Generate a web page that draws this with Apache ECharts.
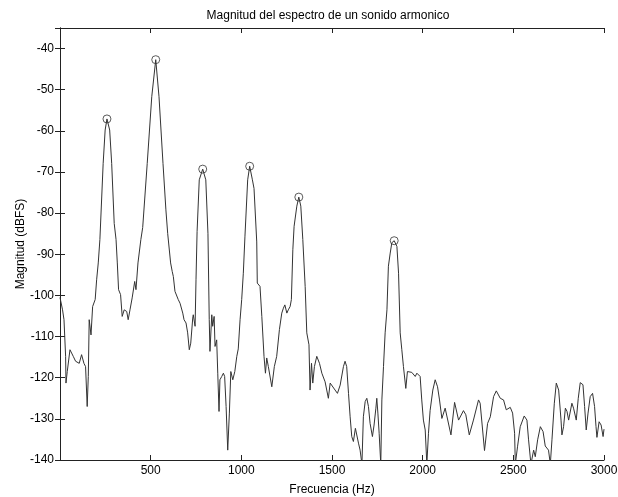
<!DOCTYPE html>
<html>
<head>
<meta charset="utf-8">
<title>Magnitud del espectro</title>
<script src="https://cdn.jsdelivr.net/npm/echarts@6/dist/echarts.min.js"></script>
<style>
  html, body { margin: 0; padding: 0; background: #fff; }
  #chart { width: 618px; height: 497px; }
</style>
</head>
<body>
<div id="chart"></div>
<script>
// Frequency bins (Hz) and spectrum magnitude (dBFS)
const freqHz = [
  0, 14, 22, 31, 33, 40, 55, 73, 86, 97, 106, 119, 132, 141, 150, 156, 161, 171, 180, 189,
  194, 202, 211, 220, 238, 249, 259, 274, 285, 299, 309, 316, 323, 334, 343, 354, 368, 376, 386, 398,
  412, 419, 430, 437, 446, 456, 481, 506, 528, 546, 568, 584, 594, 610, 619, 625, 634, 644, 652, 662,
  667, 677, 684, 695, 704, 713, 721, 732, 735, 745, 750, 756, 768, 787, 804, 816, 823, 827, 837, 842,
  850, 855, 864, 870, 877, 882, 892, 901, 908, 916, 925, 934, 942, 953, 964, 975, 983, 993, 1002, 1011,
  1020, 1035, 1046, 1061, 1070, 1085, 1088, 1103, 1113, 1125, 1133, 1140, 1149, 1168, 1182, 1195, 1210, 1223, 1232, 1240,
  1251, 1259, 1269, 1276, 1284, 1291, 1306, 1317, 1328, 1339, 1352, 1361, 1373, 1379, 1387, 1394, 1403, 1416, 1431, 1444,
  1462, 1480, 1490, 1499, 1517, 1530, 1545, 1563, 1572, 1581, 1591, 1600, 1609, 1618, 1629, 1637, 1646, 1655, 1665, 1673,
  1683, 1692, 1701, 1710, 1723, 1732, 1742, 1747, 1753, 1760, 1769, 1775, 1784, 1793, 1803, 1811, 1821, 1830, 1843, 1858,
  1867, 1876, 1885, 1894, 1907, 1916, 1927, 1940, 1959, 1968, 1986, 1995, 2004, 2014, 2023, 2032, 2041, 2056, 2069, 2082,
  2093, 2106, 2124, 2156, 2176, 2198, 2225, 2238, 2257, 2280, 2308, 2317, 2341, 2358, 2373, 2391, 2406, 2428, 2446, 2461,
  2470, 2483, 2496, 2507, 2511, 2523, 2538, 2560, 2575, 2584, 2597, 2612, 2621, 2634, 2649, 2664, 2676, 2694, 2704, 2713,
  2726, 2737, 2750, 2763, 2768, 2777, 2787, 2796, 2805, 2823, 2832, 2847, 2858, 2869, 2884, 2893, 2902, 2912, 2924, 2937,
  2948, 2956, 2961, 2973, 2984, 2995, 3000
];
const magnitudeDbfs = [
  -100.5, -103.5, -105.9, -114.8, -121.3, -118.5, -113.2, -114.8, -116, -115.7, -116.5, -114.4, -116.5, -117.3, -127, -119.7, -105.9, -109.6, -102.7, -103,
  -101, -96.2, -92.1, -86.4, -67.9, -59.8, -57.1, -59.8, -67.9, -82.5, -86.4, -92.1, -98.6, -99.8, -105.1, -103.5, -103.9, -105.9, -103.5, -100.6,
  -96.6, -98.6, -92.1, -91.7, -86.4, -83.5, -67.9, -51.7, -42.7, -51.7, -67.9, -79.2, -85, -92.1, -94.2, -95.4, -99, -98.6, -101, -101.9,
  -101.5, -104.3, -105.9, -106.7, -109.1, -113.2, -111.6, -105.5, -104.7, -107.5, -96.2, -84.5, -71.9, -69.3, -71.9, -85, -105.9, -113.6, -104.7, -107.5,
  -105.1, -112.4, -110.8, -118.9, -128.2, -120.5, -119.7, -118.9, -119.7, -127, -137.6, -128.6, -118.5, -120.5, -118.5, -114.8, -113, -105.9, -101, -94.6,
  -85.6, -71.9, -68.6, -71.9, -74, -87, -97, -97.8, -105.1, -114.8, -118.9, -115.2, -117.3, -122.2, -117.3, -114.8, -108.3, -104.3, -103.1, -102.3,
  -104.3, -103.5, -102.7, -101, -88.9, -83.2, -78.3, -76.1, -78.3, -86.4, -97.8, -109.1, -112, -123, -116.5, -121.3, -117.3, -114.8, -116.5, -118.9,
  -121, -125, -121.3, -121, -123, -123.8, -121.8, -117.3, -116, -117.3, -123.8, -129.5, -134.3, -135.5, -132.3, -132.7, -135.9, -137.6, -141, -129.5,
  -125.8, -125, -127, -131.1, -134.3, -131.5, -127.4, -125, -128.6, -133.5, -141, -125.4, -117.3, -109.1, -103.5, -92.9, -89.7, -87.2, -86.7, -88.1,
  -94.6, -109.1, -113.2, -117.3, -122.6, -118.5, -118.3, -118.7, -119.7, -118.9, -119.7, -125.4, -130.3, -132.7, -141, -133.5, -128, -123, -120.5, -122.2,
  -125.4, -129.9, -127.4, -133.9, -126, -130.3, -128, -129, -133.9, -130.3, -125.4, -126.2, -137.7, -131.1, -129.5, -124.6, -123.2, -125, -125.4, -127.8,
  -128.2, -127.2, -128.6, -133.5, -141, -136.8, -131.9, -129.3, -130.3, -135.1, -141, -137.6, -139.2, -135.1, -131.9, -133.1, -136.6, -137.6, -141, -135.1,
  -126.2, -121.3, -123, -130.3, -133.9, -131.9, -127.4, -128.2, -130.3, -126.2, -127.4, -130.3, -125, -121.2, -121.7, -127, -132.7, -128.6, -124.6, -123.8,
  -127, -131.9, -134.5, -130.7, -131.5, -134.3, -132.5
];

// Detected harmonic peaks
const peakFreqHz = [259, 528, 787, 1046, 1317, 1843];
const peakDbfs = [-57.1, -42.7, -69.3, -68.6, -76.1, -86.7];

const spectrum = freqHz.map((f, i) => [f, magnitudeDbfs[i]]);
const peaks = peakFreqHz.map((f, i) => [f, peakDbfs[i]]);

const FONT = "'Liberation Sans', Arial, Helvetica, sans-serif";
const INK = '#222';

const frameAxis = {
  axisLine: { show: true, lineStyle: { color: INK, width: 1 } },
  axisTick: { show: true, inside: true, length: 5, lineStyle: { color: INK, width: 1 } },
  splitLine: { show: false }
};

const plainNumber = (v) => String(v);

const chart = echarts.init(document.getElementById('chart'), null, { renderer: 'canvas' });
chart.setOption({
  animation: false,
  backgroundColor: '#fff',
  title: {
    text: 'Magnitud del espectro de un sonido armonico',
    left: 323, top: 5, textAlign: 'center',
    textStyle: { fontFamily: FONT, fontSize: 12, fontWeight: 'normal', color: '#000' }
  },
  grid: { left: 60, right: 14, top: 28, bottom: 37, containLabel: false, outerBoundsMode: 'none' },
  xAxis: [
    Object.assign({
      type: 'value', min: 0, max: 3000, interval: 500, position: 'bottom',
      name: 'Frecuencia (Hz)', nameLocation: 'middle', nameGap: 24, nameMoveOverlap: false,
      nameTextStyle: { fontFamily: FONT, fontSize: 12, color: '#000' },
      axisLabel: { show: true, showMinLabel: false, margin: 5, formatter: plainNumber,
                   fontFamily: FONT, fontSize: 12, color: '#000' }
    }, frameAxis),
    Object.assign({
      type: 'value', min: 0, max: 3000, interval: 500, position: 'top',
      axisLabel: { show: false }
    }, frameAxis)
  ],
  yAxis: [
    Object.assign({
      type: 'value', min: -140, max: -35, interval: 10, position: 'left',
      name: 'Magnitud (dBFS)', nameLocation: 'middle', nameGap: 33, nameMoveOverlap: false,
      nameTextStyle: { fontFamily: FONT, fontSize: 12, color: '#000' },
      axisLabel: { show: true, showMaxLabel: false, margin: 6, formatter: plainNumber,
                   fontFamily: FONT, fontSize: 12, color: '#000' }
    }, frameAxis),
    Object.assign({
      type: 'value', min: -140, max: -35, interval: 10, position: 'right',
      axisLabel: { show: false }
    }, frameAxis)
  ],
  series: [
    {
      type: 'line',
      data: spectrum,
      xAxisIndex: 0, yAxisIndex: 0,
      showSymbol: false,
      clip: true,
      lineStyle: { color: '#333', width: 1 },
      emphasis: { disabled: true }
    },
    {
      type: 'scatter',
      data: peaks,
      xAxisIndex: 0, yAxisIndex: 0,
      symbol: 'circle',
      symbolSize: 8,
      itemStyle: { color: 'rgba(0,0,0,0)', borderColor: '#333', borderWidth: 1 },
      emphasis: { disabled: true }
    }
  ]
});
</script>
</body>
</html>
